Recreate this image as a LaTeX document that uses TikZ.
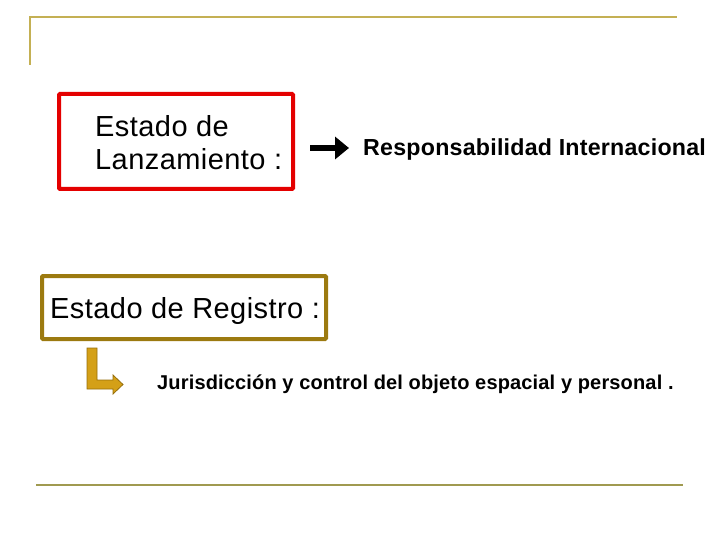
\documentclass[tikz,border=0pt]{standalone}
\usepackage{fontspec}
\setmainfont{Liberation Sans}
\usetikzlibrary{arrows.meta}
\definecolor{rulegold}{RGB}{196,176,84}
\definecolor{rulegoldb}{RGB}{160,154,80}
\definecolor{boxred}{RGB}{228,0,0}
\definecolor{boxgold}{RGB}{156,122,16}
\definecolor{arrowgold}{RGB}{212,160,23}
\definecolor{arrowedge}{RGB}{150,110,10}
\tikzset{
  lbl/.style={anchor=base west, inner sep=0pt, font=\fontsize{29}{34}\selectfont\addfontfeature{LetterSpace=1.5}},
  lblb/.style={anchor=base west, inner sep=0pt, font=\bfseries\fontsize{23.2}{27}\selectfont\addfontfeature{LetterSpace=1}},
  lblc/.style={anchor=base west, inner sep=0pt, font=\bfseries\fontsize{20}{24}\selectfont\addfontfeature{LetterSpace=0.8}},
  rulel/.style={draw=rulegold, line width=2pt},
}
\begin{document}
\begin{tikzpicture}[x=1pt,y=-1pt]
\useasboundingbox (0,0) rectangle (720,540);
% decorative rules
\draw[rulel] (30,65) -- (30,17) -- (677,17);
\draw[draw=rulegoldb, line width=2.5pt] (36,485) -- (683,485);
% red box
\draw[draw=boxred, line width=4pt, rounded corners=1pt] (59,94) rectangle (293,189);
\node[lbl] (l1) at (95,137) {Estado de};
\node[lbl] (l2) at (95,170) {Lanzamiento :};
% black arrow
\coordinate (a1) at (310,148);
\coordinate (a2) at (349,148);
\draw[line width=5.5pt, -{Triangle[length=14pt,width=22pt]}] (a1) -- (a2);
\node[lblb] (resp) at (363,156) {Responsabilidad Internacional};
% gold box
\draw[draw=boxgold, line width=4pt, rounded corners=1pt] (42,276) rectangle (326,339);
\node[lbl] (reg) at (50,318) {Estado de Registro :};
% bent arrow
\filldraw[fill=arrowgold, draw=arrowedge, line width=0.8pt]
  (87,348) -- (97,348) -- (97,380) -- (113,380) -- (113,375) -- (123,384.5)
  -- (113,394) -- (113,389) -- (87,389) -- cycle;
\node[lblc] (jur) at (157,389) {Jurisdicción y control del objeto espacial y personal .};
\end{tikzpicture}
\end{document}
